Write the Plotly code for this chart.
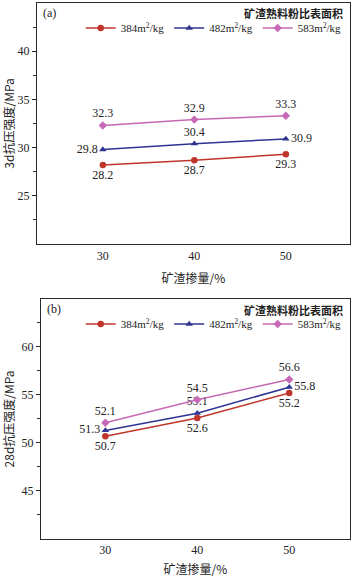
import plotly.graph_objects as go

slag = [30, 40, 50]
series_names = ["384m<sup>2</sup>/kg", "482m<sup>2</sup>/kg", "583m<sup>2</sup>/kg"]
colors = ["#C0352B", "#2E3391", "#C668B6"]
symbols = ["circle", "triangle-up", "diamond"]

s3d_384 = [28.2, 28.7, 29.3]
s3d_482 = [29.8, 30.4, 30.9]
s3d_583 = [32.3, 32.9, 33.3]

s28d_384 = [50.7, 52.6, 55.2]
s28d_482 = [51.3, 53.1, 55.8]
s28d_583 = [52.1, 54.5, 56.6]

pos3d = [["bottom center"] * 3,
         ["middle left", "top center", "middle right"],
         ["top center"] * 3]
pos28d = [["bottom center"] * 3,
          ["middle left", "top center", "middle right"],
          ["top center"] * 3]

SERIF = "Liberation Serif"
CJK = "Noto Sans CJK SC"

fig = go.Figure()

for i, vals in enumerate([s3d_384, s3d_482, s3d_583]):
    fig.add_trace(go.Scatter(
        x=slag, y=vals, mode="lines+markers+text",
        name=series_names[i], legend="legend",
        line=dict(color=colors[i], width=1.5),
        marker=dict(symbol=symbols[i], size=6.5, color=colors[i]),
        text=[f"{v:.1f}" for v in vals], textposition=pos3d[i],
        textfont=dict(family=SERIF, size=12, color="#222"),
        xaxis="x", yaxis="y", cliponaxis=False))

for i, vals in enumerate([s28d_384, s28d_482, s28d_583]):
    fig.add_trace(go.Scatter(
        x=slag, y=vals, mode="lines+markers+text",
        name=series_names[i], legend="legend2",
        line=dict(color=colors[i], width=1.5),
        marker=dict(symbol=symbols[i], size=6.5, color=colors[i]),
        text=[f"{v:.1f}" for v in vals], textposition=pos28d[i],
        textfont=dict(family=SERIF, size=12, color="#222"),
        xaxis="x2", yaxis="y2", cliponaxis=False))

axis_common = dict(showline=True, linecolor="#2a2a2a", linewidth=1.3, mirror=True,
                   showgrid=False, zeroline=False,
                   tickfont=dict(family=SERIF, size=12, color="#222"))

fig.update_layout(
    width=352, height=577,
    margin=dict(l=0, r=0, t=0, b=0),
    paper_bgcolor="white", plot_bgcolor="white",
    xaxis=dict(domain=[0.105, 0.994], anchor="y", range=[22.8, 57],
               tickvals=[30, 40, 50], ticks="", **axis_common,
               title=dict(text="矿渣掺量/%", font=dict(family=CJK, size=12, color="#222"), standoff=12)),
    yaxis=dict(domain=[0.577, 0.995], anchor="x", range=[20, 45],
               tickvals=[25, 30, 35, 40], ticks="outside", ticklen=4, tickcolor="#2a2a2a",
               minor=dict(tickvals=[22.5, 27.5, 32.5, 37.5, 42.5], ticks="outside", ticklen=3, tickcolor="#2a2a2a"),
               **axis_common,
               title=dict(text="3d抗压强度/MPa", font=dict(family=CJK, size=12, color="#222"), standoff=6)),
    xaxis2=dict(domain=[0.1165, 0.994], anchor="y2", range=[23, 56.6],
                tickvals=[30, 40, 50], ticks="", **axis_common,
                title=dict(text="矿渣掺量/%", font=dict(family=CJK, size=12, color="#222"), standoff=10)),
    yaxis2=dict(domain=[0.066, 0.482], anchor="x2", range=[40, 65],
                tickvals=[45, 50, 55, 60], ticks="outside", ticklen=4, tickcolor="#2a2a2a",
                minor=dict(tickvals=[42.5, 47.5, 52.5, 57.5, 62.5], ticks="outside", ticklen=3, tickcolor="#2a2a2a"),
                **axis_common,
                title=dict(text="28d抗压强度/MPa", font=dict(family=CJK, size=12, color="#222"), standoff=6)),
    legend=dict(orientation="h", x=0.985, xanchor="right", y=1 - 28 / 577, yanchor="middle",
                bgcolor="rgba(0,0,0,0)", font=dict(family=SERIF, size=11, color="#222"),
                itemwidth=30, tracegroupgap=0),
    legend2=dict(orientation="h", x=0.985, xanchor="right", y=1 - 324 / 577, yanchor="middle",
                 bgcolor="rgba(0,0,0,0)", font=dict(family=SERIF, size=11, color="#222"),
                 itemwidth=30, tracegroupgap=0),
    annotations=[
        dict(text="<b>矿渣熟料粉比表面积</b>", x=345 / 352, y=1 - 13 / 577, xref="paper", yref="paper",
             xanchor="right", yanchor="middle", showarrow=False,
             font=dict(family=CJK, size=11, color="#222")),
        dict(text="<b>矿渣熟料粉比表面积</b>", x=345 / 352, y=1 - 310 / 577, xref="paper", yref="paper",
             xanchor="right", yanchor="middle", showarrow=False,
             font=dict(family=CJK, size=11, color="#222")),
        dict(text="(a)", x=41 / 352, y=1 - 13 / 577, xref="paper", yref="paper",
             xanchor="left", yanchor="middle", showarrow=False,
             font=dict(family=SERIF, size=12, color="#222")),
        dict(text="(b)", x=45 / 352, y=1 - 309 / 577, xref="paper", yref="paper",
             xanchor="left", yanchor="middle", showarrow=False,
             font=dict(family=SERIF, size=12, color="#222")),
    ],
)

fig.write_html("out.html")
